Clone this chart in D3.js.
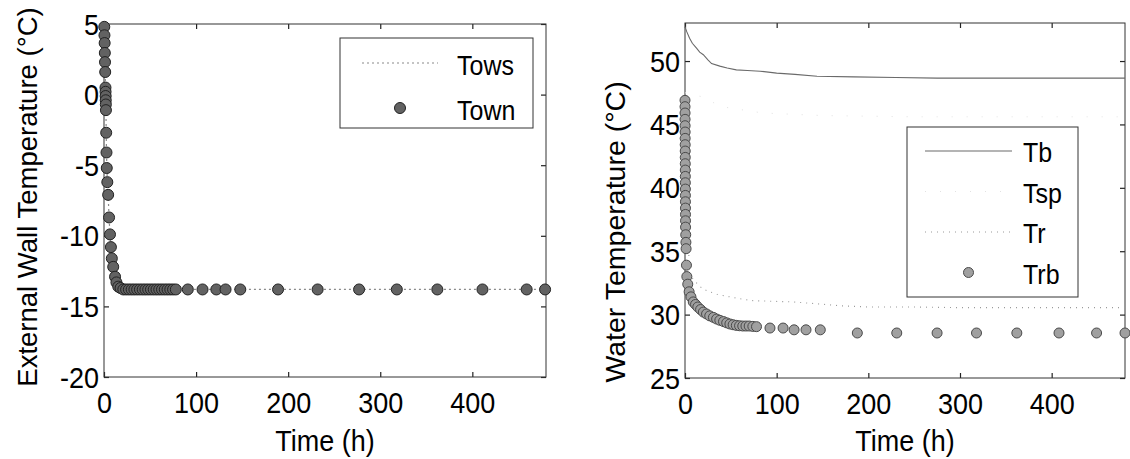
<!DOCTYPE html>
<html>
<head>
<meta charset="utf-8">
<script src="https://cdn.jsdelivr.net/npm/d3@7"></script>
<style>
  body { margin: 0; background: #fff; }
  svg text { font-family: "Liberation Sans", Arial, Helvetica, sans-serif; fill: #000; }
</style>
</head>
<body>
<svg id="chart" width="1130" height="459"></svg>
<script>
// ---------- Left panel: external wall temperature ----------
const townTime = [0.3, 0.5, 0.7, 0.9, 1.1, 1.3, 1.6, 1.7, 1.8, 1.9, 2.0, 2.1, 2.4, 2.7, 3.0, 3.6,
  4.5, 5.5, 6.5, 7.5, 8.5, 10, 12, 13.5, 15.5, 18, 21, 24, 27, 30, 33, 36, 39, 42, 45, 48,
  51, 54, 57, 60, 63, 66, 69, 72, 75, 78, 91, 107, 122, 132, 148, 189, 232, 277, 318, 362,
  411, 459, 479];
const townTemp = [4.8, 4.2, 3.65, 2.95, 2.3, 1.6, 0.5, 0.2, -0.1, -0.4, -0.7, -1.1, -2.7, -4.1, -5.2, -6.2,
  -7.1, -8.7, -9.9, -10.8, -11.6, -12.2, -12.9, -13.3, -13.6, -13.7, -13.8, -13.8, -13.8, -13.8, -13.8,
  -13.8, -13.8, -13.8, -13.8, -13.8, -13.8, -13.8, -13.8, -13.8, -13.8, -13.8, -13.8, -13.8, -13.8,
  -13.8, -13.8, -13.8, -13.8, -13.8, -13.8, -13.8, -13.8, -13.8, -13.8, -13.8, -13.8, -13.8, -13.8];
const towsTime = [0, 0.5, 1.1, 1.6, 2.1, 2.7, 3.6, 4.5, 5.5, 6.5, 7.5, 8.5, 10, 12, 15.5, 21, 40, 80,
  150, 250, 350, 480];
const towsTemp = [5.0, 4.2, 2.3, 0.5, -1.1, -4.1, -6.2, -7.1, -8.7, -9.9, -10.8, -11.6, -12.2, -12.9,
  -13.6, -13.8, -13.8, -13.8, -13.8, -13.8, -13.8, -13.8];

// ---------- Right panel: water temperatures ----------
const tbTime = [0, 2, 5, 8, 12.8, 16, 20, 25, 29, 38, 46, 56, 68, 82, 100, 120, 144, 184, 230, 275,
  320, 370, 420, 480];
const tbTemp = [52.7, 52.3, 51.8, 51.4, 51.0, 50.7, 50.5, 50.1, 49.8, 49.6, 49.45, 49.3, 49.25, 49.2,
  49.05, 48.95, 48.8, 48.75, 48.7, 48.65, 48.65, 48.65, 48.65, 48.65];
const tspTime = [0, 10, 17.5, 40, 85, 150, 250, 370, 480];
const tspTemp = [47.5, 47.3, 47.2, 46.4, 45.9, 45.7, 45.6, 45.6, 45.6];
const trTime = [0, 1, 2, 3.5, 5.5, 10, 15, 20, 27, 35, 49, 60, 74, 95, 118, 145, 169, 200, 250, 300,
  350, 400, 450, 480];
const trTemp = [47.0, 42.5, 39.0, 35.5, 33.1, 32.7, 32.3, 32.0, 31.8, 31.6, 31.4, 31.25, 31.1, 31.05,
  31.0, 30.85, 30.7, 30.6, 30.6, 30.55, 30.55, 30.55, 30.55, 30.55];
const trbTime = [0, 0.03, 0.06, 0.09, 0.12, 0.15, 0.18, 0.21, 0.24, 0.27, 0.3, 0.33, 0.36, 0.39, 0.42,
  0.45, 0.48, 0.51, 0.54, 0.57, 0.6, 0.8, 1.0, 1.2, 1.6, 2.0, 3.0, 4.5, 6.5, 9, 11.5, 14, 17, 20,
  23.5, 27, 31, 34.5, 38, 42, 45.5, 49, 52.5, 56, 59.5, 63, 66.5, 70, 74, 78, 92.7, 107, 119, 132,
  147.6, 188, 231, 275, 318, 362, 408, 449, 480];
const trbTemp = [46.9, 46.4, 45.9, 45.4, 44.9, 44.4, 43.9, 43.4, 42.9, 42.4, 41.9, 41.4, 40.9, 40.4,
  39.9, 39.4, 38.9, 38.4, 37.9, 37.4, 36.9, 36.3, 35.7, 35.2, 33.9, 33.0, 32.4, 31.8, 31.4, 31.0,
  30.8, 30.6, 30.4, 30.2, 30.05, 29.9, 29.78, 29.65, 29.55, 29.45, 29.35, 29.26, 29.2, 29.15, 29.12,
  29.1, 29.1, 29.1, 29.07, 29.05, 28.94, 28.94, 28.8, 28.8, 28.8, 28.55, 28.55, 28.55, 28.55, 28.55,
  28.55, 28.55, 28.55];

// ---------- Axis ticks ----------
const timeTicks = [0, 100, 200, 300, 400];
const wallTicks = [-20, -15, -10, -5, 0, 5];
const waterTicks = [25, 30, 35, 40, 45, 50];

const svg = d3.select("#chart");
const TICK_FONT = 27;
const LEGEND_FONT = 25;
const STRETCH = 1.1;   // glyphs are slightly taller than wide
const plainNumber = d => String(d);   // hyphen-minus, as printed on the axes

// Convert a text's x/y attributes into a transform so it can be stretched vertically.
function stretchText(sel, sy) {
  sel.each(function () {
    const t = d3.select(this);
    const x = +t.attr("x") || 0, y = +t.attr("y") || 0;
    t.attr("x", 0).attr("y", 0)
     .attr("transform", `translate(${x},${y}) scale(1,${sy})`);
  });
}

function panel(o) {
  const x = d3.scaleLinear().domain(o.xDomain).range([o.left, o.right]);
  const y = d3.scaleLinear().domain(o.yDomain).range([o.bottom, o.top]);
  const g = svg.append("g");

  const axisStyle = a => {
    a.select(".domain").remove();
    a.selectAll(".tick line").attr("stroke", "#222").attr("stroke-width", 1.2);
    a.selectAll(".tick text").attr("font-size", TICK_FONT).attr("font-family", null);
  };

  const bottom = g.append("g").attr("transform", `translate(0,${o.bottom})`)
    .call(d3.axisBottom(x).tickValues(o.xTicks).tickSize(-5).tickFormat(plainNumber));
  axisStyle(bottom);
  bottom.selectAll(".tick text").attr("dy", null).attr("y", 36);
  stretchText(bottom.selectAll(".tick text"), STRETCH);

  g.append("g").attr("transform", `translate(0,${o.top})`)
    .call(d3.axisTop(x).tickValues(o.xTicks).tickSize(-5).tickFormat(""))
    .call(axisStyle);

  const left = g.append("g").attr("transform", `translate(${o.left},0)`)
    .call(d3.axisLeft(y).tickValues(o.yTicks).tickSize(-5).tickPadding(5).tickFormat(plainNumber));
  axisStyle(left);
  left.selectAll(".tick text").attr("dy", null).attr("y", 10);
  stretchText(left.selectAll(".tick text"), STRETCH);

  g.append("g").attr("transform", `translate(${o.right},0)`)
    .call(d3.axisRight(y).tickValues(o.yTicks).tickSize(-5).tickFormat(""))
    .call(axisStyle);

  // box frame
  g.append("rect")
    .attr("x", o.left).attr("y", o.top)
    .attr("width", o.right - o.left).attr("height", o.bottom - o.top)
    .attr("fill", "none").attr("stroke", "#333").attr("stroke-width", 1);

  // axis titles
  const xt = g.append("text").attr("x", (o.left + o.right) / 2).attr("y", 451)
    .attr("text-anchor", "middle").attr("font-size", TICK_FONT).text(o.xLabel);
  stretchText(xt, STRETCH);
  g.append("text")
    .attr("transform", `translate(${o.yLabelX},${o.yLabelY}) rotate(-90)`)
    .attr("text-anchor", "middle").attr("font-size", o.yLabelSize).text(o.yLabel);

  return { x, y, g };
}

function drawLine(p, xs, ys, style) {
  const line = d3.line().x(i => p.x(xs[i])).y(i => p.y(ys[i]));
  p.g.append("path")
    .attr("d", line(d3.range(xs.length)))
    .attr("fill", "none")
    .attr("stroke", style.color)
    .attr("stroke-width", style.width)
    .attr("stroke-dasharray", style.dash);
}

function drawMarkers(p, xs, ys, style) {
  p.g.append("g").selectAll("circle")
    .data(d3.range(xs.length))
    .join("circle")
    .attr("cx", i => p.x(xs[i]))
    .attr("cy", i => p.y(ys[i]))
    .attr("r", style.r)
    .attr("fill", style.fill)
    .attr("stroke", style.stroke)
    .attr("stroke-width", 1);
}

function legend(box, entries) {
  const g = svg.append("g");
  g.append("rect").attr("x", box.x).attr("y", box.y).attr("width", box.w).attr("height", box.h)
    .attr("fill", "#fff").attr("stroke", "#333").attr("stroke-width", 1);
  entries.forEach((e, k) => {
    const base = box.firstBase + k * box.step;
    const cy = base - box.sampleOffset;
    if (e.line) {
      g.append("line").attr("x1", box.sx1).attr("x2", box.sx2).attr("y1", cy).attr("y2", cy)
        .attr("stroke", e.line.color).attr("stroke-width", e.line.width)
        .attr("stroke-dasharray", e.line.dash);
    }
    if (e.marker) {
      g.append("circle").attr("cx", (box.sx1 + box.sx2) / 2).attr("cy", cy).attr("r", e.marker.r)
        .attr("fill", e.marker.fill).attr("stroke", e.marker.stroke).attr("stroke-width", 1);
    }
    const t = g.append("text").attr("x", box.tx).attr("y", base)
      .attr("font-size", LEGEND_FONT).text(e.label);
    stretchText(t, 1.12);
  });
}

// ---------- styles ----------
const towsStyle = { color: "#8a8a8a", width: 1.2, dash: "2,3" };
const townStyle = { r: 5.5, fill: "#626262", stroke: "#222" };
const tbStyle = { color: "#6a6a6a", width: 1.1, dash: null };
const tspStyle = { color: "#e2e2e2", width: 1, dash: "1,14" };
const trStyle = { color: "#9a9a9a", width: 1.1, dash: "1,5" };
const trbStyle = { r: 5, fill: "#a0a0a0", stroke: "#4a4a4a" };

// ---------- left panel ----------
const pL = panel({
  left: 104, right: 546, top: 24, bottom: 377,
  xDomain: [0, 480], yDomain: [-20, 5],
  xTicks: timeTicks, yTicks: wallTicks,
  xLabel: "Time (h)", yLabel: "External Wall Temperature (°C)",
  yLabelX: 37, yLabelY: 197, yLabelSize: 27.5
});
drawLine(pL, towsTime, towsTemp, towsStyle);
drawMarkers(pL, townTime, townTemp, townStyle);

legend({ x: 340, y: 38, w: 193, h: 90, firstBase: 75, step: 45, sampleOffset: 12,
         sx1: 362, sx2: 438, tx: 457 },
  [{ label: "Tows", line: towsStyle }, { label: "Town", marker: townStyle }]);

// ---------- right panel ----------
const pR = panel({
  left: 685, right: 1125, top: 23, bottom: 378,
  xDomain: [0, 480], yDomain: [25, 53],
  xTicks: timeTicks, yTicks: waterTicks,
  xLabel: "Time (h)", yLabel: "Water Temperature (°C)",
  yLabelX: 625, yLabelY: 232, yLabelSize: 28.5
});
drawLine(pR, tbTime, tbTemp, tbStyle);
drawLine(pR, tspTime, tspTemp, tspStyle);
drawLine(pR, trTime, trTemp, trStyle);
drawMarkers(pR, trbTime, trbTemp, trbStyle);

legend({ x: 907, y: 127, w: 171, h: 170, firstBase: 162, step: 40.5, sampleOffset: 11,
         sx1: 925, sx2: 1012, tx: 1023 },
  [{ label: "Tb", line: tbStyle }, { label: "Tsp", line: tspStyle },
   { label: "Tr", line: trStyle }, { label: "Trb", marker: trbStyle }]);
</script>
</body>
</html>
